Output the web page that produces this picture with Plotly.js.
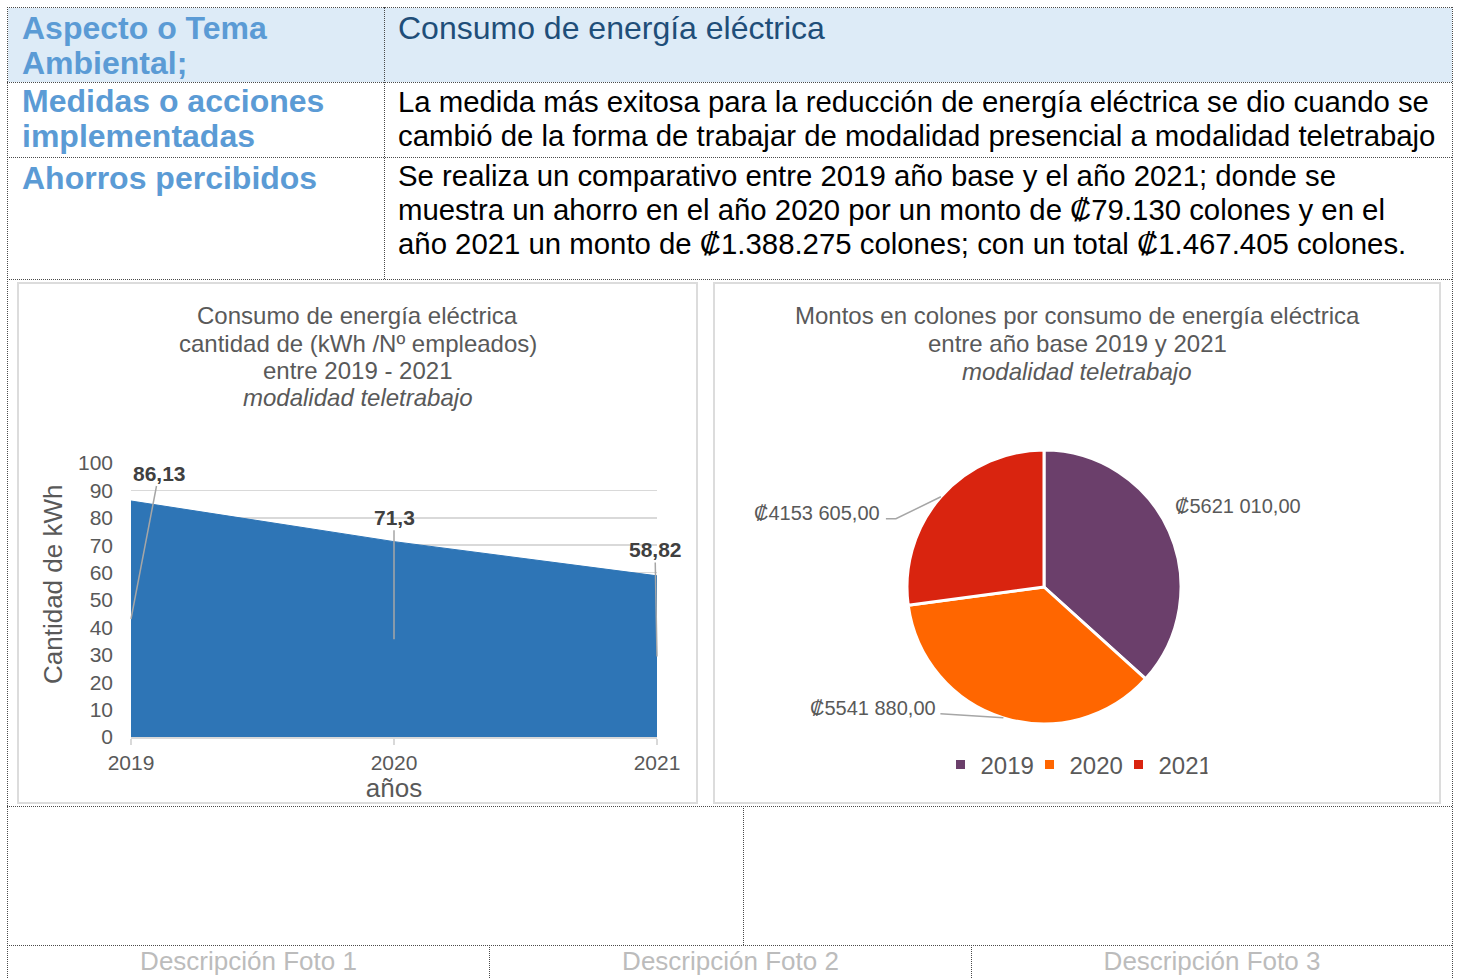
<!DOCTYPE html>
<html>
<head>
<meta charset="utf-8">
<script src="https://cdn.plot.ly/plotly-3.0.1.min.js"></script>
<style>
  html, body { margin:0; padding:0; background:#fff; }
  body { width:1459px; height:978px; overflow:hidden; position:relative;
         font-family:"Liberation Sans", Arial, sans-serif; }
  .abs { position:absolute; }
  .hl { position:absolute; height:0; border-top:1px dotted #4a4a4a; }
  .vl { position:absolute; width:0; border-left:1px dotted #4a4a4a; }
  .lab { position:absolute; color:#5B9BD5; font-weight:bold; font-size:32px; line-height:35px; white-space:nowrap; }
  .txt { position:absolute; color:#000; font-size:29.35px; line-height:34px; white-space:nowrap; }
  .box { position:absolute; border:2px solid #dcdcdc; box-sizing:border-box; background:#fff; }
  .desc { position:absolute; color:#bcbcbc; font-size:26px; line-height:30px; text-align:center; white-space:nowrap; }
</style>
</head>
<body>
<!-- header background -->
<div class="abs" style="left:8px;top:8px;width:1444px;height:74px;background:#DDEBF7;"></div>

<!-- table lines -->
<div class="hl" style="left:7px;top:7px;width:1445px;"></div>
<div class="hl" style="left:7px;top:82px;width:1445px;"></div>
<div class="hl" style="left:7px;top:157px;width:1445px;"></div>
<div class="hl" style="left:7px;top:279px;width:1445px;"></div>
<div class="hl" style="left:7px;top:806px;width:1445px;"></div>
<div class="hl" style="left:7px;top:945px;width:1445px;"></div>
<div class="vl" style="left:7px;top:7px;height:971px;"></div>
<div class="vl" style="left:1452px;top:7px;height:971px;"></div>
<div class="vl" style="left:384px;top:7px;height:272px;"></div>
<div class="vl" style="left:743px;top:806px;height:139px;"></div>
<div class="vl" style="left:489px;top:945px;height:33px;"></div>
<div class="vl" style="left:971px;top:945px;height:33px;"></div>

<!-- table text -->
<div class="lab" style="left:22px;top:11px;">Aspecto o Tema<br>Ambiental;</div>
<div class="lab" style="left:22px;top:84px;">Medidas o acciones<br>implementadas</div>
<div class="lab" style="left:22px;top:161px;">Ahorros percibidos</div>

<div class="lab" style="left:398px;top:11px;color:#1F4E79;font-weight:normal;">Consumo de energía eléctrica</div>
<div class="txt" style="left:398px;top:85px;">La medida más exitosa para la reducción de energía eléctrica se dio cuando se<br>cambió de la forma de trabajar de modalidad presencial a modalidad teletrabajo</div>
<div class="txt" style="left:398px;top:159px;">Se realiza un comparativo entre 2019 año base y el año 2021; donde se<br>muestra un ahorro en el año 2020 por un monto de ₡79.130 colones y en el<br>año 2021 un monto de ₡1.388.275 colones; con un total ₡1.467.405 colones.</div>

<div class="desc" style="left:8px;top:946px;width:481px;">Descripción Foto 1</div>
<div class="desc" style="left:490px;top:946px;width:481px;">Descripción Foto 2</div>
<div class="desc" style="left:972px;top:946px;width:480px;">Descripción Foto 3</div>

<!-- chart frames -->
<div class="box" style="left:17px;top:282px;width:681px;height:522px;"></div>
<div class="box" style="left:713px;top:282px;width:728px;height:522px;"></div>

<div id="area" class="abs" style="left:18px;top:283px;width:679px;height:520px;"></div>
<div id="pie" class="abs" style="left:714px;top:283px;width:726px;height:520px;"></div>

<script>
// ---------- data ----------
const YEARS = [2019, 2020, 2021];
const KWH_PER_EMPLOYEE = [86.13, 71.3, 58.82];
const PIE_LABELS = ['2019', '2020', '2021'];
const COLONES = [5621010, 5541880, 4153605];
const Y_TICKS = [0, 10, 20, 30, 40, 50, 60, 70, 80, 90, 100];

const FONT = '"Liberation Sans", Arial, sans-serif';
const GREY = '#595959';

// ---------- area chart ----------
(function () {
  const W = 679, H = 520, L = 113, R = 40, T = 180, B = 66;
  const pw = W - L - R, ph = H - T - B;
  const px = X => (X - L) / pw;
  const py = Y => (H - B - Y) / ph;

  const titleLines = [
    'Consumo de energía eléctrica',
    'cantidad de (kWh /Nº empleados)',
    'entre 2019 - 2021',
    '<i>modalidad teletrabajo</i>'
  ];
  const titleY = [32, 60, 88, 115];
  const ann = titleLines.map((t, i) => ({
    xref: 'paper', yref: 'paper', x: px(W / 2), y: py(titleY[i]),
    xanchor: 'center', yanchor: 'middle', showarrow: false, text: t,
    font: { family: FONT, size: 24, color: GREY }
  }));
  ann.push({
    xref: 'paper', yref: 'paper', x: px(35), y: py(302), textangle: -90,
    xanchor: 'center', yanchor: 'middle', showarrow: false, text: 'Cantidad de kWh',
    font: { family: FONT, size: 26, color: GREY }
  });
  const labelOffsets = [[28, -146], [0, -122], [-2, -107]];
  YEARS.forEach((yr, i) => {
    ann.push({
      xref: 'x', yref: 'y', x: yr, y: KWH_PER_EMPLOYEE[i] / 2,
      text: '<b>' + String(KWH_PER_EMPLOYEE[i]).replace('.', ',') + '</b>',
      showarrow: true, arrowhead: 0, arrowwidth: 1.5, arrowcolor: '#a6a6a6',
      ax: labelOffsets[i][0], ay: labelOffsets[i][1],
      font: { family: FONT, size: 21, color: '#404040' }
    });
  });

  const trace = {
    type: 'scatter', mode: 'lines', x: YEARS, y: KWH_PER_EMPLOYEE,
    fill: 'tozeroy', fillcolor: '#2E75B6',
    line: { color: '#2E75B6', width: 1 }, hoverinfo: 'skip', showlegend: false
  };
  const layout = {
    width: W, height: H, margin: { l: L, r: R, t: T, b: B },
    paper_bgcolor: 'rgba(0,0,0,0)', plot_bgcolor: 'rgba(0,0,0,0)',
    font: { family: FONT, color: GREY },
    showlegend: false,
    xaxis: {
      range: [YEARS[0], YEARS[YEARS.length - 1]], tickvals: YEARS, ticktext: YEARS.map(String),
      showgrid: false, zeroline: false, showline: true, linecolor: '#d9d9d9', linewidth: 1.5,
      ticks: 'outside', ticklen: 6, tickcolor: '#d9d9d9', tickwidth: 1.5,
      tickfont: { family: FONT, size: 21, color: GREY },
      title: { text: 'años', font: { family: FONT, size: 26, color: GREY }, standoff: 2 }
    },
    yaxis: {
      range: [0, 100], tickvals: Y_TICKS, showgrid: true, gridcolor: '#d9d9d9', gridwidth: 1.5,
      zeroline: false, showline: false, ticks: '', ticklabelstandoff: 17,
      tickfont: { family: FONT, size: 21, color: GREY }
    },
    annotations: ann
  };
  Plotly.newPlot('area', [trace], layout, { staticPlot: true, displayModeBar: false });
})();

// ---------- pie chart ----------
(function () {
  const W = 726, H = 520;
  const CX = 330, CY = 304, RAD = 137;
  const px = X => X / W;
  const py = Y => 1 - Y / H;

  const titleLines = [
    'Montos en colones por consumo de energía eléctrica',
    'entre año base 2019 y 2021',
    '<i>modalidad teletrabajo</i>'
  ];
  const titleY = [32, 60, 88];
  const ann = titleLines.map((t, i) => ({
    xref: 'paper', yref: 'paper', x: 0.5, y: py(titleY[i]),
    xanchor: 'center', yanchor: 'middle', showarrow: false, text: t,
    font: { family: FONT, size: 24, color: GREY }
  }));

  const fmt = v => {
    const s = Math.round(v).toString();
    return '₡' + s.slice(0, -3) + ' ' + s.slice(-3) + ',00';
  };
  const total = COLONES.reduce((a, b) => a + b, 0);
  const labelOffsets = [[69, -25], [-130, -10], [-124, 16]];
  const leaders = [null, [[-63, -4]], [[-45, 22], [-55, 22]]];
  const shapes = [];
  let cum = 0;
  COLONES.forEach((v, i) => {
    const mid = (cum + v / 2) / total * 2 * Math.PI;
    cum += v;
    const ax = CX + RAD * Math.sin(mid), ay = CY - RAD * Math.cos(mid);
    ann.push({
      xref: 'paper', yref: 'paper',
      x: px(ax + labelOffsets[i][0]), y: py(ay + labelOffsets[i][1]),
      xanchor: 'center', yanchor: 'middle', showarrow: false, text: fmt(v),
      font: { family: FONT, size: 20, color: GREY }
    });
    if (leaders[i]) {
      let path = 'M' + px(ax) + ',' + py(ay);
      leaders[i].forEach(p => { path += ' L' + px(ax + p[0]) + ',' + py(ay + p[1]); });
      shapes.push({ type: 'path', xref: 'paper', yref: 'paper', path: path,
                    line: { color: '#a6a6a6', width: 1.5 } });
    }
  });

  const trace = {
    type: 'pie', labels: PIE_LABELS, values: COLONES, sort: false,
    direction: 'clockwise', rotation: 0, textinfo: 'none', hoverinfo: 'skip',
    marker: { colors: ['#6B3F6B', '#FF6600', '#D9240F'], line: { color: '#ffffff', width: 3 } },
    domain: { x: [px(CX - RAD), px(CX + RAD)], y: [py(CY + RAD), py(CY - RAD)] }
  };
  const layout = {
    width: W, height: H, margin: { l: 0, r: 0, t: 0, b: 0 },
    paper_bgcolor: 'rgba(0,0,0,0)',
    font: { family: FONT, color: GREY },
    showlegend: true,
    legend: {
      orientation: 'h', x: px(360), xanchor: 'center', y: py(482), yanchor: 'middle',
      font: { family: FONT, size: 24, color: GREY }, entrywidth: 44, entrywidthmode: 'pixels',
      traceorder: 'normal'
    },
    annotations: ann, shapes: shapes
  };
  Plotly.newPlot('pie', [trace], layout, { staticPlot: true, displayModeBar: false });
})();
</script>
</body>
</html>
